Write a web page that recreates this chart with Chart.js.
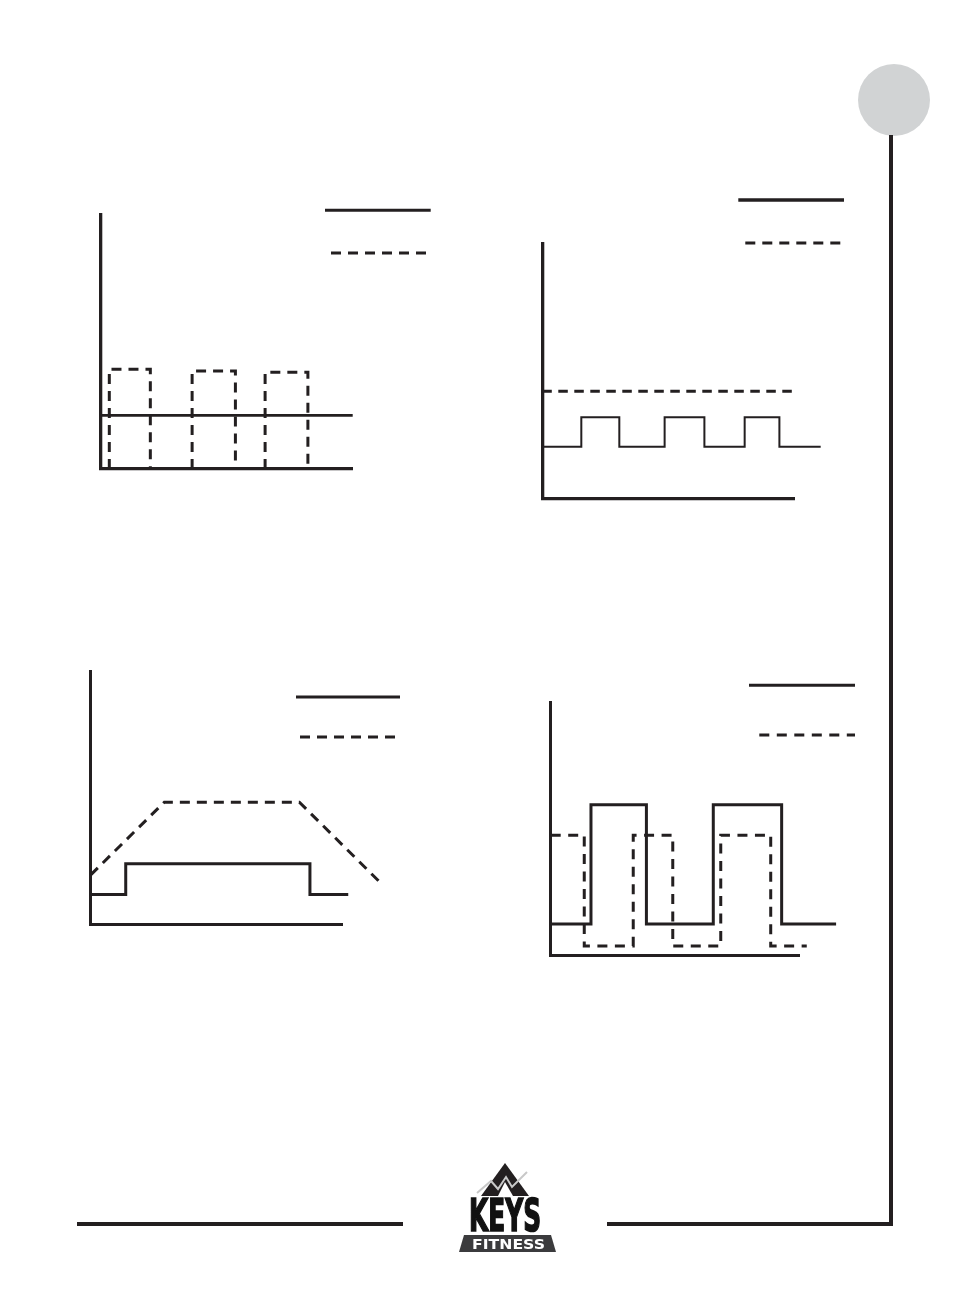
<!DOCTYPE html>
<html>
<head>
<meta charset="utf-8">
<script src="https://cdn.jsdelivr.net/npm/chart.js@4.4.1/dist/chart.umd.min.js"></script>
<style>
  html, body { margin:0; padding:0; background:#fff; }
  #page { position:relative; width:954px; height:1312px; overflow:hidden; background:#fff; }
  #page canvas { position:absolute; left:0; top:0; }
  .deco { position:absolute; background:#231f20; }
</style>
</head>
<body>
<div id="page">
  <canvas id="c1" width="954" height="1312"></canvas>
  <canvas id="c2" width="954" height="1312"></canvas>
  <canvas id="c3" width="954" height="1312"></canvas>
  <canvas id="c4" width="954" height="1312"></canvas>

  <div style="position:absolute;left:858px;top:64px;width:72px;height:72px;border-radius:50%;background:#d1d3d4;"></div>
  <div class="deco" style="left:889px;top:135px;width:4px;height:1091px;"></div>
  <div class="deco" style="left:607px;top:1222px;width:286px;height:4px;"></div>
  <div class="deco" style="left:77px;top:1222px;width:326px;height:4px;"></div>

  <svg style="position:absolute;left:440px;top:1155px;" width="130" height="105" viewBox="440 1155 130 105">
    <polygon points="505,1163 481,1196 529,1196" fill="#231f20"/>
    <polygon points="505,1182 498,1196 513,1196" fill="#ffffff"/>
    <polyline points="477,1193 491,1181 498,1189 506,1177 512,1187 527,1172" fill="none" stroke="#c8c8c8" stroke-width="2"/>
    <text x="469" y="1231" textLength="72" lengthAdjust="spacingAndGlyphs"
          font-family="'Liberation Sans Narrow','DejaVu Sans Condensed','Liberation Sans',sans-serif"
          font-weight="bold" font-size="45" fill="#111" stroke="#111" stroke-width="1.6">KEYS</text>
    <polygon points="464,1235 551,1235 556,1252 459,1252" fill="#3b3b3d"/>
    <text x="472" y="1249" textLength="73" lengthAdjust="spacingAndGlyphs"
          font-family="'DejaVu Sans','Liberation Sans',sans-serif"
          font-weight="bold" font-size="14" fill="#ffffff">FITNESS</text>
  </svg>
</div>

<script>
// ---------------- DATA (time 0..100 along each x axis, level 0..100 along each y axis) ----------------
// Chart 1 (top left)
const c1SolidTimes  = [0, 100];
const c1SolidLevels = [21.1];
const c1PulseStarts = [3.3, 36.2, 65.2];
const c1PulseEnds   = [19.6, 53.4, 82.2];
const c1PulseLevels = [39.3, 38.6, 38.1];

// Chart 2 (top right)
const c2SolidTimes  = [0, 15.5, 30.6, 48.6, 64.4, 80.4, 94.2, 110.6];
const c2SolidLevels = [20.3, 31.9, 20.3, 31.9, 20.3, 31.9, 20.3];
const c2DashTimes   = [0, 99.5];
const c2DashLevels  = [42.1];

// Chart 3 (bottom left)
const c3SolidTimes  = [0, 13.9, 87.0, 102.2];
const c3SolidLevels = [11.8, 23.9, 11.8];
const c3DashTimes   = [0, 29.2, 82.8, 115.5];   // polyline vertices
const c3DashLevels  = [19.5, 48.2, 48.2, 15.9];

// Chart 4 (bottom right)
const c4SolidTimes  = [0, 16.2, 38.5, 65.4, 92.9, 114.8];
const c4SolidLevels = [12.4, 59.5, 12.4, 59.5, 12.4];
const c4DashTimes   = [0, 13.5, 33.2, 49.1, 68.4, 88.5, 103.0];
const c4DashLevels  = [47.5, 3.7, 47.5, 3.7, 47.5, 3.7];

// ---------------- helpers ----------------
const INK = '#231f20';

function steps(t, l) {
  const pts = [];
  for (let i = 0; i < l.length; i++) {
    pts.push({x: t[i], y: l[i]});
    pts.push({x: t[i + 1], y: l[i]});
  }
  return pts;
}
function pulses(starts, ends, levels) {
  const pts = [];
  starts.forEach((s, i) => {
    pts.push({x: s, y: 0}, {x: s, y: levels[i]}, {x: ends[i], y: levels[i]}, {x: ends[i], y: 0});
    pts.push({x: ends[i], y: null});
  });
  return pts;
}
function poly(t, l) { return t.map((x, i) => ({x, y: l[i]})); }

const keyLinesPlugin = {
  id: 'keyLines',
  afterDraw(chart, args, opts) {
    const ctx = chart.ctx;
    (opts.items || []).forEach(k => {
      ctx.save();
      ctx.strokeStyle = INK;
      ctx.lineWidth = k.w;
      ctx.lineCap = 'butt';
      ctx.setLineDash(k.dash || []);
      ctx.beginPath();
      ctx.moveTo(k.x1, k.y);
      ctx.lineTo(k.x2, k.y);
      ctx.stroke();
      ctx.restore();
    });
  }
};

function makeChart(id, frame, datasets, keys, axisW) {
  const W = 954, H = 1312;
  return new Chart(document.getElementById(id), {
    type: 'line',
    data: { datasets },
    plugins: [keyLinesPlugin],
    options: {
      responsive: false,
      animation: false,
      devicePixelRatio: 1,
      events: [],
      spanGaps: false,
      layout: { autoPadding: false,
        padding: { left: frame.left, top: frame.top, right: W - frame.right, bottom: H - frame.bottom } },
      plugins: { legend: { display: false }, tooltip: { enabled: false }, keyLines: { items: keys } },
      elements: { point: { radius: 0 }, line: { tension: 0, borderCapStyle: 'butt', borderJoinStyle: 'miter' } },
      scales: {
        x: { type: 'linear', min: 0, max: 100,
             grid: { display: false, drawTicks: false }, ticks: { display: false },
             border: { display: true, width: axisW, color: INK },
             afterFit(s) { s.height = 0; } },
        y: { type: 'linear', min: 0, max: 100,
             grid: { display: false, drawTicks: false }, ticks: { display: false },
             border: { display: true, width: axisW, color: INK },
             afterFit(s) { s.width = 0; } }
      }
    }
  });
}

function ds(data, w, dash) {
  return { data, borderColor: INK, borderWidth: w, borderDash: dash || [], fill: false, clip: false,
           pointRadius: 0, spanGaps: false };
}

// Chart 1
makeChart('c1', {left: 101, top: 215, right: 352.7, bottom: 469}, [
  ds(steps(c1SolidTimes, c1SolidLevels), 2.7),
  ds(pulses(c1PulseStarts, c1PulseEnds, c1PulseLevels), 3, [10, 7])
], [
  {x1: 325, x2: 430.7, y: 210.3, w: 3},
  {x1: 331, x2: 426.7, y: 253, w: 3, dash: [10, 7]}
], 3.3);

// Chart 2
makeChart('c2', {left: 542.3, top: 244, right: 794, bottom: 498.3}, [
  ds(steps(c2SolidTimes, c2SolidLevels), 2),
  ds(steps(c2DashTimes, c2DashLevels), 3, [9.5, 6.5])
], [
  {x1: 738.3, x2: 844, y: 200, w: 3.3},
  {x1: 745.3, x2: 841, y: 243, w: 3, dash: [10, 7]}
], 3.3);

// Chart 3
makeChart('c3', {left: 90.7, top: 671, right: 342.7, bottom: 924.3}, [
  ds(steps(c3SolidTimes, c3SolidLevels), 3),
  ds(poly(c3DashTimes, c3DashLevels), 3, [10, 7])
], [
  {x1: 296, x2: 400, y: 697, w: 3},
  {x1: 300, x2: 396, y: 737, w: 3, dash: [10, 7]}
], 3);

// Chart 4
makeChart('c4', {left: 550.7, top: 702.3, right: 799.3, bottom: 955.3}, [
  ds(steps(c4SolidTimes, c4SolidLevels), 3),
  ds(steps(c4DashTimes, c4DashLevels), 3, [10, 7.5])
], [
  {x1: 749, x2: 855, y: 685.3, w: 3},
  {x1: 759.3, x2: 855, y: 735, w: 3, dash: [10, 7.5]}
], 3);
</script>
</body>
</html>
